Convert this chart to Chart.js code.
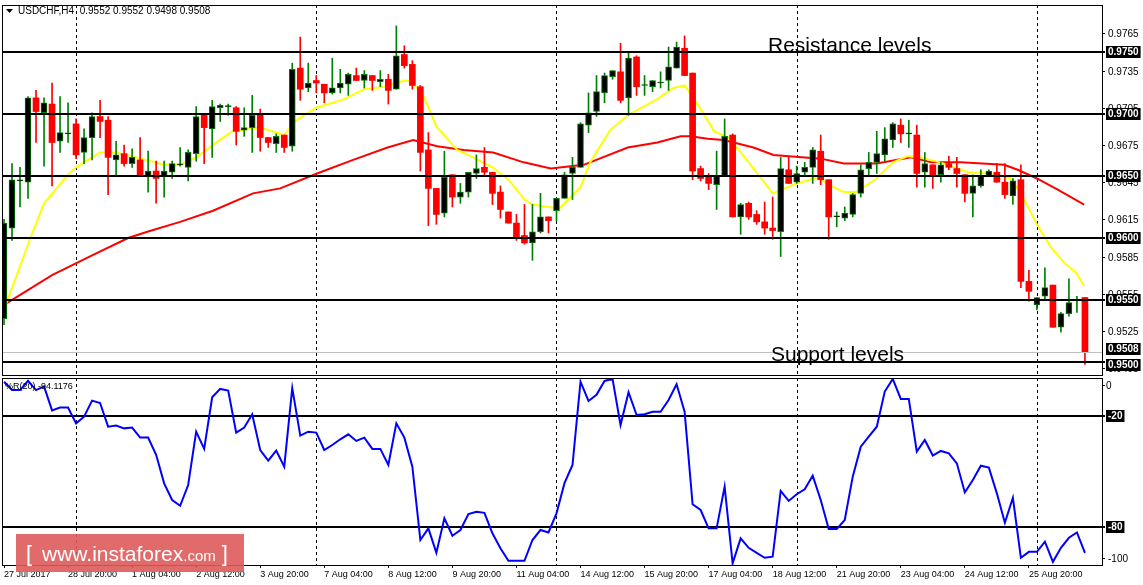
<!DOCTYPE html>
<html><head><meta charset="utf-8">
<script src="https://cdn.jsdelivr.net/npm/chart.js@4.4.1/dist/chart.umd.min.js"></script>
<style>
html,body{margin:0;padding:0;background:#fff;width:1143px;height:585px;overflow:hidden}
#c1{position:absolute;left:0;top:0}
#c2{position:absolute;left:0;top:377px}
</style></head><body>
<canvas id="c1" width="1143" height="377"></canvas>
<canvas id="c2" width="1143" height="208"></canvas>
<script>
const openP=[0.9535,0.9608,0.9646,0.9645,0.9713,0.9701,0.9708,0.9678,0.9684,0.9692,
0.9669,0.9681,0.9698,0.9695,0.9663,0.9668,0.9660,0.9663,0.9650,0.9654,
0.9650,0.9653,0.9659,0.9657,0.9668,0.9699,0.9688,0.9705,0.9706,0.9705,
0.9687,0.9689,0.9700,0.9681,0.9676,0.9683,0.9674,0.9737,0.9721,0.9727,
0.9724,0.9717,0.9721,0.9724,0.9731,0.9727,0.9731,0.9726,0.9728,0.9720,
0.9748,0.9740,0.9722,0.9671,0.9640,0.9620,0.9651,0.9633,0.9637,0.9652,
0.9657,0.9653,0.9637,0.9621,0.9612,0.9602,0.9596,0.9605,0.9617,0.9622,
0.9632,0.9652,0.9657,0.9691,0.9702,0.9717,0.9730,0.9734,0.9713,0.9746,
0.9723,0.9722,0.9725,0.9727,0.9737,0.9753,0.9733,0.9656,0.9649,0.9643,
0.9650,0.9683,0.9617,0.9628,0.9619,0.9613,0.9608,0.9605,0.9655,0.9645,
0.9653,0.9657,0.9670,0.9647,0.9617,0.9616,0.9619,0.9636,0.9656,0.9661,
0.9667,0.9679,0.9691,0.9684,0.9683,0.9653,0.9659,0.9651,0.9660,0.9656,
0.9651,0.9636,0.9642,0.9650,0.9653,0.9645,0.9634,0.9647,0.9565,0.9546,
0.9553,0.9562,0.9528,0.9539,0.9550,0.9552];
const highP=[0.9615,0.9660,0.9657,0.9714,0.9719,0.9713,0.9725,0.9714,0.9709,0.9696,
0.9688,0.9701,0.9711,0.9698,0.9678,0.9675,0.9672,0.9681,0.9670,0.9662,
0.9662,0.9662,0.9673,0.9671,0.9706,0.9700,0.9711,0.9708,0.9708,0.9706,
0.9705,0.9715,0.9704,0.9681,0.9684,0.9683,0.9741,0.9762,0.9741,0.9731,
0.9724,0.9745,0.9736,0.9733,0.9737,0.9735,0.9731,0.9735,0.9732,0.9771,
0.9755,0.9743,0.9723,0.9685,0.9640,0.9670,0.9651,0.9644,0.9653,0.9667,
0.9673,0.9653,0.9642,0.9621,0.9619,0.9627,0.9627,0.9636,0.9617,0.9632,
0.9653,0.9665,0.9693,0.9717,0.9731,0.9733,0.9735,0.9757,0.9750,0.9747,
0.9731,0.9727,0.9734,0.9754,0.9758,0.9763,0.9733,0.9658,0.9652,0.9670,
0.9696,0.9684,0.9628,0.9629,0.9622,0.9629,0.9633,0.9665,0.9665,0.9658,
0.9661,0.9673,0.9683,0.9647,0.9621,0.9625,0.9636,0.9659,0.9669,0.9686,
0.9689,0.9693,0.9696,0.9695,0.9691,0.9669,0.9659,0.9661,0.9666,0.9665,
0.9651,0.9651,0.9655,0.9655,0.9660,0.9660,0.9648,0.9659,0.9574,0.9552,
0.9576,0.9562,0.9540,0.9567,0.9553,0.9552];
const lowP=[0.9530,0.9598,0.9625,0.9632,0.9677,0.9658,0.9642,0.9669,0.9677,0.9664,
0.9660,0.9663,0.9681,0.9635,0.9650,0.9658,0.9657,0.9650,0.9637,0.9628,
0.9633,0.9648,0.9658,0.9646,0.9662,0.9660,0.9665,0.9694,0.9699,0.9675,
0.9682,0.9669,0.9670,0.9673,0.9669,0.9669,0.9670,0.9711,0.9718,0.9717,
0.9709,0.9716,0.9717,0.9715,0.9727,0.9721,0.9719,0.9722,0.9708,0.9720,
0.9737,0.9720,0.9654,0.9610,0.9611,0.9617,0.9625,0.9628,0.9633,0.9648,
0.9650,0.9627,0.9616,0.9612,0.9598,0.9595,0.9582,0.9604,0.9604,0.9614,
0.9632,0.9631,0.9657,0.9685,0.9698,0.9709,0.9728,0.9709,0.9699,0.9715,
0.9715,0.9718,0.9721,0.9719,0.9737,0.9731,0.9647,0.9646,0.9639,0.9623,
0.9650,0.9617,0.9603,0.9615,0.9611,0.9603,0.9599,0.9585,0.9644,0.9644,
0.9650,0.9644,0.9643,0.9599,0.9609,0.9614,0.9617,0.9633,0.9651,0.9652,
0.9662,0.9673,0.9677,0.9673,0.9641,0.9641,0.9640,0.9645,0.9655,0.9641,
0.9629,0.9617,0.9641,0.9650,0.9645,0.9632,0.9627,0.9560,0.9549,0.9542,
0.9551,0.9528,0.9524,0.9537,0.9540,0.9498];
const closeP=[0.9612,0.9647,0.9647,0.9713,0.9702,0.9709,0.9677,0.9685,0.9684,0.9667,
0.9681,0.9698,0.9694,0.9665,0.9667,0.9660,0.9665,0.9650,0.9654,0.9648,
0.9654,0.9660,0.9659,0.9669,0.9698,0.9689,0.9706,0.9707,0.9706,0.9686,
0.9689,0.9699,0.9681,0.9677,0.9682,0.9673,0.9736,0.9720,0.9725,0.9725,
0.9717,0.9721,0.9725,0.9732,0.9727,0.9732,0.9727,0.9728,0.9719,0.9747,
0.9739,0.9723,0.9669,0.9640,0.9619,0.9649,0.9633,0.9637,0.9653,0.9656,
0.9653,0.9636,0.9623,0.9612,0.9600,0.9596,0.9605,0.9617,0.9614,0.9632,
0.9651,0.9657,0.9692,0.9701,0.9718,0.9731,0.9735,0.9711,0.9745,0.9722,
0.9723,0.9727,0.9725,0.9738,0.9754,0.9731,0.9654,0.9648,0.9644,0.9650,
0.9682,0.9617,0.9627,0.9617,0.9613,0.9608,0.9606,0.9656,0.9644,0.9652,
0.9657,0.9671,0.9647,0.9617,0.9617,0.9620,0.9635,0.9655,0.9661,0.9668,
0.9680,0.9692,0.9684,0.9684,0.9652,0.9660,0.9650,0.9659,0.9657,0.9652,
0.9636,0.9642,0.9650,0.9654,0.9645,0.9635,0.9646,0.9565,0.9557,0.9552,
0.9560,0.9528,0.9539,0.9548,0.9550,0.9508];
// moving averages: [bar index, value]
const fastMA=[[0,0.9542],[3.3,0.9600],[5,0.9628],[8,0.9651],[9,0.9657],[12,0.9669],[14,0.9669],[16.5,0.9665],[20,0.9659],[22,0.9659],[24,0.9665],[26.5,0.9677],[28.5,0.9686],[32,0.9689],[35,0.9683],[36.5,0.9695],[39,0.9705],[42.5,0.9712],[45,0.9720],[47.5,0.9722],[50,0.9727],[51,0.9726],[52.5,0.9713],[54,0.9690],[56.6,0.9671],[58.6,0.9665],[61,0.9657],[63,0.9647],[65,0.9631],[66,0.9627],[68,0.9625],[69.4,0.9624],[72,0.9641],[73.2,0.9661],[75.7,0.9687],[77.9,0.9699],[81.6,0.9712],[83.6,0.9721],[85,0.9723],[86.7,0.9707],[88.7,0.9686],[90.5,0.9681],[93,0.9661],[96,0.9636],[98.6,0.9643],[101.6,0.9649],[103.3,0.9642],[104.9,0.9637],[106.4,0.9637],[109,0.9648],[111,0.9661],[112.9,0.9666],[114.5,0.9665],[117.4,0.9660],[120.4,0.9653],[123,0.9652],[125.7,0.9648],[127,0.9636],[129,0.9611],[130.7,0.9593],[132.4,0.9580],[133.9,0.9572],[134.9,0.9561]];
const slowMA=[[0,0.9546],[6,0.9570],[11,0.9586],[15.5,0.9600],[17.9,0.9605],[22,0.9613],[26.1,0.9622],[31.1,0.9636],[34.5,0.9640],[39.1,0.9652],[43.6,0.9663],[47.9,0.9673],[51.1,0.9679],[54.1,0.9674],[57.4,0.9671],[61.1,0.9669],[64.9,0.9661],[68.3,0.9656],[72.4,0.9659],[77.9,0.9673],[81.6,0.9677],[84.5,0.9682],[85.7,0.9682],[87.9,0.9680],[89.9,0.9679],[93.6,0.9673],[96.1,0.9667],[102,0.9664],[104.9,0.9660],[109,0.9660],[113.3,0.9665],[115.8,0.9661],[119.5,0.9661],[124.9,0.9659],[126.6,0.9655],[129,0.9648],[131.6,0.9639],[134.9,0.9627]];
const wpr=[-1.5,-6,-6,-1,-6,-4,-17,-15.5,-15.5,-24,-20.4,-11.7,-13,-25.8,-25.2,-26.7,-26.3,-31.7,-31.7,-41,
-56.4,-65.4,-68.5,-57.3,-28.5,-37.8,-9.9,-5.4,-6.3,-29,-26.3,-19.1,-38.4,-44.1,-38.7,-47.4,-5,-30.6,-28.5,-29,
-38.4,-35.7,-32.6,-29.9,-33.5,-31.7,-37.8,-37.8,-46.5,-24,-31.7,-47.4,-87,-80.7,-93.9,-75.3,-84.7,-81.6,-73,-71.7,
-72.3,-83.4,-91.5,-98.2,-98.2,-98.2,-87,-81.6,-82.9,-72.6,-56.3,-46.5,-1.5,-11.9,-8.6,
-1.1,0,-24.9,-7.2,-19.5,-19.1,-17.7,-17.7,-11.4,-2.9,-17.7,-67.7,-70.8,-80.7,-80.7,-58.2,-99.6,-86.1,-91.2,-93.9,
-96.6,-96,-60.5,-65.9,-62.3,-59.6,-52.3,-65.4,-81.1,-81.1,-76.2,-52.8,-36.6,-31.2,-25.8,-6.8,0,-10.8,-10.8,-39.3,
-33,-41.4,-38.9,-40.2,-45.6,-61.3,-54.6,-46.9,-47.9,-61.8,-77.7,-64.2,-96.6,-93.4,-93.4,-87.9,-98.8,-91.2,-85.8,-82.9,-93.9];
const priceTicks=[0.9765,0.9735,0.9705,0.9675,0.9645,0.9615,0.9585,0.9555,0.9525,0.9495];
const levels=[0.9750,0.9700,0.9650,0.9600,0.9550,0.9500];
const lastPrice=0.9508;
const wprLevels=[-20,-80];
const wprTicks=[0,-20,-80,-100];
const dayBreaks=[9,39,69,99,129];
const dateTickIdx=[0,8,16,24,32,40,48,56,64,72,80,88,96,104,112,120,128];
const dateLabels=['27 Jul 2017','28 Jul 20:00','1 Aug 04:00','2 Aug 12:00','3 Aug 20:00','7 Aug 04:00','8 Aug 12:00','9 Aug 20:00','11 Aug 04:00','14 Aug 12:00','15 Aug 20:00','17 Aug 04:00','18 Aug 12:00','21 Aug 20:00','23 Aug 04:00','24 Aug 12:00','25 Aug 20:00'];

const XMIN=-0.25, XMAX=137.13;
const FONT='Liberation Sans, Arial, sans-serif';
const up=i=>closeP[i]>=openP[i];
const idx=openP.map((_,i)=>i);

function dashes(ch){
  const ctx=ch.ctx, a=ch.chartArea, xs=ch.scales.x;
  ctx.save();ctx.strokeStyle='#000';ctx.lineWidth=1;ctx.setLineDash([3,3]);
  dayBreaks.forEach(d=>{const x=Math.round(xs.getPixelForValue(d))+0.5;ctx.beginPath();ctx.moveTo(x,a.top);ctx.lineTo(x,a.bottom);ctx.stroke();});
  ctx.restore();
}
function boxLabel(ctx,txt,x,y){
  ctx.font='bold 10px '+FONT;
  const w=ctx.measureText(txt).width+4;
  ctx.fillStyle='#000';ctx.fillRect(x,y-6,w,12);
  ctx.fillStyle='#fff';ctx.textAlign='left';ctx.textBaseline='middle';ctx.fillText(txt,x+2,y+0.5);
}
const mainPlugin={
  id:'mainDeco',
  beforeDatasetsDraw(ch){ dashes(ch); },
  afterDatasetsDraw(ch){
    const ctx=ch.ctx,a=ch.chartArea,ys=ch.scales.y;
    ctx.save();
    let y=Math.round(ys.getPixelForValue(lastPrice))+0.5;
    ctx.strokeStyle='#c0c0c0';ctx.lineWidth=1;ctx.beginPath();ctx.moveTo(a.left,y);ctx.lineTo(a.right,y);ctx.stroke();
    ctx.strokeStyle='#000';ctx.lineWidth=2;
    levels.forEach(v=>{const y=Math.round(ys.getPixelForValue(v));ctx.beginPath();ctx.moveTo(a.left,y);ctx.lineTo(a.right+3,y);ctx.stroke();});
    ctx.lineWidth=1;ctx.strokeRect(a.left+0.5,a.top+0.5,a.right-a.left,a.bottom-a.top);
    ctx.font='10px '+FONT;ctx.fillStyle='#000';ctx.textAlign='left';ctx.textBaseline='middle';
    priceTicks.forEach(v=>{const y=Math.round(ys.getPixelForValue(v));ctx.fillRect(a.right,y,3,1);ctx.fillText(v.toFixed(4),a.right+6,y+1);});
    levels.concat([lastPrice]).forEach(v=>{const y=Math.round(ys.getPixelForValue(v));boxLabel(ctx,v.toFixed(4),a.right+4,y+(v===lastPrice?-3:(v===0.95?3:0)));});
    ctx.fillStyle='#000';ctx.beginPath();ctx.moveTo(6,9);ctx.lineTo(13,9);ctx.lineTo(9.5,13);ctx.fill();
    ctx.font='10px '+FONT;ctx.textBaseline='middle';ctx.fillText('USDCHF,H4  0.9552 0.9552 0.9498 0.9508',18,11);
    ctx.font='21px '+FONT;ctx.textBaseline='alphabetic';
    ctx.fillText('Resistance levels',768,52);
    ctx.fillText('Support levels',771,361);
    ctx.restore();
  }
};
const oscPlugin={
  id:'oscDeco',
  beforeDatasetsDraw(ch){
    const ctx=ch.ctx,a=ch.chartArea,ys=ch.scales.y;
    dashes(ch);
    ctx.save();ctx.strokeStyle='#000';ctx.lineWidth=2;
    wprLevels.forEach(v=>{const y=Math.round(ys.getPixelForValue(v));ctx.beginPath();ctx.moveTo(a.left,y);ctx.lineTo(a.right+3,y);ctx.stroke();});
    ctx.restore();
  },
  afterDatasetsDraw(ch){
    const ctx=ch.ctx,a=ch.chartArea,ys=ch.scales.y;
    ctx.save();
    ctx.strokeStyle='#000';ctx.lineWidth=1;ctx.strokeRect(a.left+0.5,a.top+0.5,a.right-a.left,a.bottom-a.top);
    ctx.textAlign='left';ctx.textBaseline='middle';
    wprTicks.forEach(v=>{
      let y=Math.round(ys.getPixelForValue(v));
      if(wprLevels.includes(v)){boxLabel(ctx,String(v),a.right+4,y);}
      else{const yy=v===0?y+6:y-6;ctx.fillStyle='#000';ctx.fillRect(a.right,yy,3,1);ctx.font='10px '+FONT;ctx.fillText(String(v),a.right+(v===0?4:6),yy+1);}
    });
    ctx.font='9px '+FONT;ctx.fillStyle='#000';ctx.fillText('%R(20) -94.1176',5,a.top+9);
    ctx.fillStyle='rgba(222,90,90,0.9)';ctx.fillRect(16,157,228,38);
    ctx.fillStyle='#fff';ctx.textBaseline='alphabetic';
    ctx.font='22px '+FONT;ctx.fillText('[',26,184);
    ctx.font='21px '+FONT;ctx.fillText('www.instaforex',42,184);
    let w=ctx.measureText('www.instaforex').width;
    ctx.font='15px '+FONT;ctx.fillText('.com',42+w,184);
    w+=ctx.measureText('.com').width;
    ctx.font='22px '+FONT;ctx.fillText(']',48+w,184);
    ctx.restore();
  }
};

const wicks=idx.map(i=>({x:i,y:[lowP[i],highP[i]]}));
const bodies=idx.map(i=>({x:i,y:[openP[i],closeP[i]]}));

new Chart(document.getElementById('c1'),{
  data:{datasets:[
    {type:'bar',data:bodies,order:0,barThickness:6,minBarLength:1,grouped:false,
     backgroundColor:ctx=>up(ctx.dataIndex)?'#000':'#ff0000',
     borderColor:ctx=>up(ctx.dataIndex)?'#008000':'#ff0000',borderWidth:ctx=>up(ctx.dataIndex)?1:0,borderSkipped:false},
    {type:'bar',data:wicks,order:1,barThickness:1,grouped:false,
     backgroundColor:ctx=>up(ctx.dataIndex)?'#008000':'#ff0000'},
    {type:'line',data:fastMA.map(p=>({x:p[0],y:p[1]})),order:2,borderColor:'#ffff00',borderWidth:2,pointRadius:0,tension:0},
    {type:'line',data:slowMA.map(p=>({x:p[0],y:p[1]})),order:3,borderColor:'#ff0000',borderWidth:2,pointRadius:0,tension:0}
  ]},
  options:{responsive:false,animation:false,events:[],
    layout:{padding:{left:2,top:5,bottom:2,right:0}},
    plugins:{legend:{display:false},tooltip:{enabled:false}},
    scales:{
      x:{type:'linear',min:XMIN,max:XMAX,display:false,offset:false},
      y:{position:'right',min:0.94895,max:0.97879,grid:{display:false},border:{display:false},ticks:{display:false},
         afterFit(s){s.width=41;}}
    }},
  plugins:[mainPlugin]
});

new Chart(document.getElementById('c2'),{
  type:'line',
  data:{datasets:[{data:wpr.map((v,i)=>({x:i,y:v})),borderColor:'#0000ff',borderWidth:2,pointRadius:0,tension:0}]},
  options:{responsive:false,animation:false,events:[],
    layout:{padding:{left:2,top:1,bottom:0,right:0}},
    plugins:{legend:{display:false},tooltip:{enabled:false}},
    scales:{
      x:{type:'linear',min:XMIN,max:XMAX,offset:false,
         grid:{drawOnChartArea:false,drawTicks:true,tickLength:3,color:'#000'},border:{display:false},
         afterBuildTicks(s){s.ticks=dateTickIdx.map(v=>({value:v}));},
         ticks:{autoSkip:false,maxRotation:0,align:'start',padding:1,color:'#000',font:{family:FONT,size:9},
           callback:(v)=>{const k=dateTickIdx.indexOf(v);return k>=0?dateLabels[k]:'';}},
         afterFit(s){s.height=20;}},
      y:{position:'right',min:-100.5,max:0.5,grid:{display:false},border:{display:false},ticks:{display:false},
         afterFit(s){s.width=41;}}
    }},
  plugins:[oscPlugin]
});
</script></body></html>
